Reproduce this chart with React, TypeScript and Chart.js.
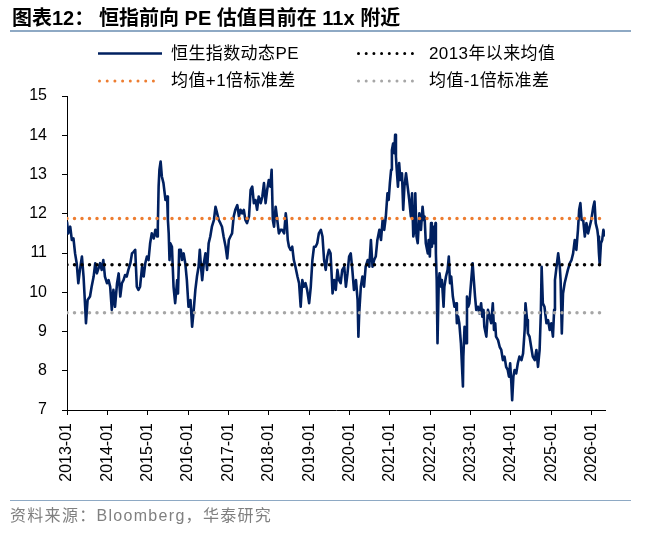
import React, { useEffect, useRef } from "react";
import { Chart, registerables } from "chart.js";

Chart.register(...registerables);

// ---- data (fractional year, forward PE) ----
const peDates = [
  2013.00, 2013.03, 2013.08, 2013.12, 2013.16, 2013.20, 2013.24, 2013.28, 2013.32, 2013.37, 2013.41, 2013.45, 2013.47, 2013.51, 2013.57, 2013.61, 2013.66, 2013.70, 2013.74, 2013.78, 2013.82, 2013.86, 2013.90, 2013.94, 2013.99,
  2014.03, 2014.07, 2014.11, 2014.15, 2014.19, 2014.24, 2014.28, 2014.32, 2014.36, 2014.40, 2014.44, 2014.48, 2014.52, 2014.57, 2014.61, 2014.65, 2014.69, 2014.73, 2014.77, 2014.81, 2014.86, 2014.90, 2014.94, 2014.98,
  2015.02, 2015.06, 2015.10, 2015.15, 2015.19, 2015.23, 2015.25, 2015.27, 2015.29, 2015.32, 2015.35, 2015.39, 2015.44, 2015.48, 2015.50, 2015.52, 2015.54, 2015.56, 2015.60, 2015.64, 2015.68, 2015.73, 2015.75, 2015.78, 2015.82, 2015.85, 2015.89, 2015.93, 2015.97,
  2016.01, 2016.06, 2016.10, 2016.14, 2016.18, 2016.22, 2016.26, 2016.29, 2016.32, 2016.35, 2016.39, 2016.43, 2016.47, 2016.51, 2016.55, 2016.59, 2016.64, 2016.68, 2016.72, 2016.76, 2016.80, 2016.84, 2016.88, 2016.93, 2016.97,
  2017.01, 2017.05, 2017.09, 2017.13, 2017.17, 2017.22, 2017.26, 2017.30, 2017.34, 2017.38, 2017.42, 2017.46, 2017.51, 2017.55, 2017.59, 2017.63, 2017.67, 2017.71, 2017.75, 2017.80, 2017.84, 2017.88, 2017.92, 2017.96,
  2018.00, 2018.04, 2018.07, 2018.10, 2018.13, 2018.17, 2018.21, 2018.25, 2018.29, 2018.33, 2018.38, 2018.42, 2018.44, 2018.47, 2018.50, 2018.54, 2018.58, 2018.62, 2018.66, 2018.71, 2018.75, 2018.79, 2018.83, 2018.87, 2018.91, 2018.95,
  2019.00, 2019.04, 2019.08, 2019.12, 2019.16, 2019.20, 2019.24, 2019.29, 2019.33, 2019.37, 2019.41, 2019.45, 2019.49, 2019.53, 2019.58, 2019.62, 2019.66, 2019.70, 2019.74, 2019.78, 2019.82, 2019.87, 2019.91, 2019.95, 2019.99,
  2020.03, 2020.07, 2020.11, 2020.16, 2020.20, 2020.22, 2020.24, 2020.28, 2020.32, 2020.36, 2020.40, 2020.45, 2020.49, 2020.53, 2020.57, 2020.61, 2020.65, 2020.69, 2020.74, 2020.78, 2020.82, 2020.86, 2020.90, 2020.94, 2020.97,
  2021.00, 2021.03, 2021.05, 2021.08, 2021.11, 2021.13, 2021.15, 2021.17, 2021.20, 2021.23, 2021.26, 2021.30, 2021.33, 2021.36, 2021.40, 2021.44, 2021.48, 2021.52, 2021.55, 2021.58, 2021.61, 2021.63, 2021.66, 2021.69, 2021.73, 2021.77, 2021.81, 2021.84, 2021.86, 2021.89, 2021.94, 2021.96, 2021.99,
  2022.02, 2022.04, 2022.08, 2022.10, 2022.13, 2022.14, 2022.16, 2022.18, 2022.21, 2022.23, 2022.27, 2022.29, 2022.33, 2022.35, 2022.39, 2022.43, 2022.46, 2022.49, 2022.52, 2022.56, 2022.60, 2022.64, 2022.66, 2022.69, 2022.72, 2022.76, 2022.81, 2022.82, 2022.85, 2022.89, 2022.91, 2022.94, 2022.97,
  2023.01, 2023.05, 2023.08, 2023.11, 2023.14, 2023.18, 2023.22, 2023.26, 2023.29, 2023.32, 2023.34, 2023.39, 2023.43, 2023.47, 2023.51, 2023.55, 2023.58, 2023.61, 2023.63, 2023.68, 2023.72, 2023.76, 2023.80, 2023.84, 2023.88, 2023.92, 2023.95, 2023.98,
  2024.01, 2024.03, 2024.06, 2024.09, 2024.13, 2024.17, 2024.21, 2024.26, 2024.30, 2024.34, 2024.36, 2024.40, 2024.42, 2024.46, 2024.50, 2024.54, 2024.59, 2024.63, 2024.67, 2024.71, 2024.74, 2024.76, 2024.79, 2024.83, 2024.88, 2024.92, 2024.96,
  2025.00, 2025.04, 2025.07, 2025.09, 2025.12, 2025.17, 2025.21, 2025.23, 2025.26, 2025.29, 2025.33, 2025.37, 2025.41, 2025.46, 2025.50, 2025.54, 2025.58, 2025.62, 2025.66, 2025.69, 2025.72, 2025.75, 2025.79, 2025.83, 2025.87, 2025.91, 2025.95, 2025.99,
  2026.04, 2026.07, 2026.10, 2026.14, 2026.16, 2026.18, 2026.20, 2026.23, 2026.26, 2026.29, 2026.33,
];

const peValues = [
  11.80, 11.50, 11.67, 11.33, 11.37, 10.99, 10.74, 10.23, 10.57, 10.91, 10.40, 9.63, 9.21, 9.80, 9.89, 10.14, 10.40, 10.74, 10.48, 10.61, 10.74, 10.57, 10.82, 10.40, 10.23,
  10.31, 10.14, 9.55, 10.06, 9.63, 10.23, 10.48, 9.89, 10.23, 10.31, 10.44, 10.40, 10.57, 10.74, 10.99, 11.03, 11.08, 10.14, 10.06, 10.14, 10.65, 10.40, 10.74, 10.91,
  10.82, 11.25, 11.50, 11.37, 11.59, 11.42, 11.67, 12.69, 13.12, 13.33, 12.95, 12.78, 12.35, 12.44, 11.84, 11.50, 10.82, 11.25, 11.16, 10.14, 9.72, 10.31, 9.97, 11.08, 11.08, 10.82, 10.99, 10.74, 10.31,
  9.63, 9.80, 9.12, 9.55, 10.06, 10.40, 10.65, 11.08, 10.65, 10.31, 10.74, 10.99, 10.57, 11.25, 11.42, 11.67, 11.84, 12.18, 12.01, 11.84, 11.76, 11.67, 11.42, 11.16, 10.86,
  11.33, 11.42, 11.50, 11.93, 12.10, 12.22, 11.93, 12.10, 12.01, 12.10, 11.84, 11.76, 11.93, 12.61, 12.69, 12.27, 12.35, 12.10, 12.44, 12.27, 12.44, 12.78, 12.27, 12.61,
  12.86, 12.69, 13.12, 11.84, 11.67, 12.18, 11.84, 11.50, 11.59, 11.59, 11.50, 12.01, 11.84, 11.33, 11.16, 11.08, 11.16, 10.82, 10.65, 10.40, 10.23, 9.63, 10.31, 10.14, 10.23, 10.06,
  9.72, 10.14, 10.82, 11.16, 11.16, 11.25, 11.50, 11.59, 11.42, 10.82, 10.57, 10.91, 11.08, 10.99, 9.97, 10.31, 10.06, 10.57, 10.31, 10.23, 10.57, 10.65, 10.14, 10.48, 10.91,
  10.99, 10.57, 10.06, 10.31, 9.80, 8.87, 9.46, 10.14, 10.40, 10.14, 10.65, 10.82, 10.65, 11.33, 10.65, 10.82, 10.91, 11.33, 11.59, 11.33, 11.84, 11.59, 11.93, 12.52, 12.35,
  12.78, 13.12, 13.62, 13.79, 13.54, 14.01, 13.45, 13.12, 12.69, 13.29, 12.86, 13.03, 12.10, 12.69, 13.03, 12.69, 12.35, 11.93, 12.52, 11.42, 11.59, 12.52, 11.42, 11.25, 12.01, 11.59, 12.18, 11.84, 11.93, 11.25, 10.99, 11.33, 10.91,
  11.76, 11.16, 11.67, 11.25, 11.76, 10.99, 10.31, 8.70, 10.23, 10.48, 10.14, 10.31, 9.63, 10.14, 10.40, 10.57, 10.91, 10.23, 10.40, 9.89, 9.63, 9.72, 9.21, 9.38, 9.21, 8.70, 7.60, 8.36, 9.12, 8.70, 9.89, 9.63, 9.72,
  10.23, 10.74, 10.31, 9.89, 9.55, 9.63, 9.46, 9.72, 9.38, 9.55, 9.12, 8.87, 9.55, 9.38, 9.21, 9.72, 9.04, 9.21, 8.87, 8.78, 8.61, 8.53, 8.27, 8.36, 8.10, 8.02, 7.85, 8.19,
  7.68, 7.25, 7.85, 8.02, 7.93, 8.19, 8.36, 8.27, 8.44, 9.04, 9.72, 9.29, 8.95, 8.87, 8.61, 8.36, 8.27, 8.53, 8.10, 8.53, 9.46, 10.65, 9.72, 9.63, 9.21, 9.29, 9.04,
  9.21, 8.87, 9.55, 10.31, 10.57, 10.99, 10.65, 10.31, 8.95, 9.97, 10.23, 10.40, 10.57, 10.74, 10.82, 10.99, 11.33, 11.08, 11.59, 12.10, 12.27, 11.84, 11.84, 11.42, 11.76, 11.50, 11.67, 11.84,
  12.18, 12.31, 11.76, 11.59, 11.42, 10.99, 10.70, 11.25, 11.33, 11.59, 11.42,
];

const meanValue = 10.7;
const plusOneStd = 11.88;
const minusOneStd = 9.48;

const yearTicks = [2013, 2014, 2015, 2016, 2017, 2018, 2019, 2020, 2021, 2022, 2023, 2024, 2025, 2026];
const xMin = 2013;
const xMax = 2026.33;
const yMin = 7;
const yMax = 15;

const seriesLabels = ["恒生指数动态PE", "2013年以来均值", "均值+1倍标准差", "均值-1倍标准差"];
const seriesColors = ["#002060", "#000000", "#ED7D31", "#A6A6A6"];

const titleLead = "图表12：";
const titleText = "恒指前向 PE 估值目前在 11x 附近";
const sourceText = "资料来源：Bloomberg，华泰研究";

const latinFont = "'Liberation Sans', Arial, 'Noto Sans CJK SC', sans-serif";

function LegendSymbol({ x, y, color, dotted }: { x: number; y: number; color: string; dotted: boolean }) {
  return dotted ? (
    <line x1={x + 1.5} y1={y} x2={x + 63} y2={y} stroke={color} strokeWidth={3} strokeLinecap="round" strokeDasharray="0 7.7" />
  ) : (
    <line x1={x} y1={y} x2={x + 64} y2={y} stroke={color} strokeWidth={2.5} />
  );
}

export default function App() {
  const canvasRef = useRef<HTMLCanvasElement>(null);

  useEffect(() => {
    const canvas = canvasRef.current;
    if (!canvas) return;
    const pePoints = peDates.map((d, i) => ({ x: d, y: peValues[i] }));
    const hline = (v: number) => [
      { x: xMin, y: v },
      { x: xMax, y: v },
    ];
    const dotted = (label: string, color: string, v: number) => ({
      label,
      data: hline(v),
      borderColor: color,
      backgroundColor: color,
      borderWidth: 3.5,
      borderDash: [0, 7.5],
      borderCapStyle: "round" as const,
      pointRadius: 0,
      fill: false,
      order: 1,
    });
    const tickFont = { family: latinFont, size: 16 };
    const chart = new Chart(canvas, {
      type: "line",
      data: {
        datasets: [
          dotted(seriesLabels[1], seriesColors[1], meanValue),
          dotted(seriesLabels[2], seriesColors[2], plusOneStd),
          dotted(seriesLabels[3], seriesColors[3], minusOneStd),
          {
            label: seriesLabels[0],
            data: pePoints,
            borderColor: seriesColors[0],
            backgroundColor: seriesColors[0],
            borderWidth: 2.6,
            borderJoinStyle: "round",
            pointRadius: 0,
            tension: 0,
            fill: false,
            order: 2,
          },
        ],
      },
      options: {
        responsive: false,
        animation: false,
        devicePixelRatio: 1,
        layout: { padding: { left: 0, top: 96, right: 52, bottom: 0 } },
        plugins: { legend: { display: false }, tooltip: { enabled: false }, title: { display: false } },
        scales: {
          x: {
            type: "linear",
            min: xMin,
            max: xMax,
            afterBuildTicks: (s: any) => {
              s.ticks = yearTicks.map((v) => ({ value: v }));
            },
            afterFit: (s: any) => {
              s.height = 133;
            },
            grid: { drawOnChartArea: false, drawTicks: true, tickLength: 5, tickColor: "#000", tickWidth: 1 },
            border: { display: true, color: "#000", width: 1 },
            ticks: {
              autoSkip: false,
              minRotation: 90,
              maxRotation: 90,
              padding: 8,
              color: "#000",
              font: tickFont,
              callback: (v: any) => `${v}-01`,
            },
          },
          y: {
            min: yMin,
            max: yMax,
            afterFit: (s: any) => {
              s.width = 67;
            },
            grid: { drawOnChartArea: false, drawTicks: true, tickLength: 5, tickColor: "#000", tickWidth: 1 },
            border: { display: true, color: "#000", width: 1 },
            ticks: { stepSize: 1, padding: 15, color: "#000", font: tickFont },
          },
        },
      },
    } as any);
    return () => chart.destroy();
  }, []);

  const legendRows = [
    { x: 98, tx: 171, y: 53.5, idx: 0 },
    { x: 357, tx: 429, y: 53.5, idx: 1 },
    { x: 98, tx: 171, y: 81, idx: 2 },
    { x: 357, tx: 429, y: 81, idx: 3 },
  ];

  const titleStyle: React.CSSProperties = {
    position: "absolute",
    top: 4,
    height: 28,
    lineHeight: "28px",
    fontSize: 20,
    fontWeight: 700,
    color: "#000",
    whiteSpace: "nowrap",
  };

  return (
    <div
      style={{
        position: "absolute",
        left: 0,
        top: 0,
        width: 657,
        height: 543,
        background: "#fff",
        overflow: "hidden",
        fontFamily: latinFont,
      }}
    >
      <canvas ref={canvasRef} width={657} height={543} style={{ position: "absolute", left: 0, top: 0, width: 657, height: 543 }} />
      <div style={{ ...titleStyle, left: 12 }}>{titleLead}</div>
      <div style={{ ...titleStyle, left: 99 }}>{titleText}</div>
      <div style={{ position: "absolute", left: 10, top: 30, width: 621, height: 1.5, background: "#8EA9C4" }} />
      <svg width={657} height={100} style={{ position: "absolute", left: 0, top: 0 }}>
        {legendRows.map((r) => (
          <LegendSymbol key={r.idx} x={r.x} y={r.y} color={seriesColors[r.idx]} dotted={r.idx !== 0} />
        ))}
      </svg>
      {legendRows.map((r) => (
        <div
          key={"t" + r.idx}
          style={{
            position: "absolute",
            left: r.tx,
            top: r.y - 12,
            height: 24,
            lineHeight: "24px",
            fontSize: 17,
            letterSpacing: 0.4,
            color: "#000",
            whiteSpace: "nowrap",
          }}
        >
          {seriesLabels[r.idx]}
        </div>
      ))}
      <div style={{ position: "absolute", left: 10, top: 499.5, width: 621, height: 1.5, background: "#8EA9C4" }} />
      <div
        style={{
          position: "absolute",
          left: 10,
          top: 505,
          height: 22,
          lineHeight: "22px",
          fontSize: 16,
          letterSpacing: 1.3,
          color: "#808080",
          whiteSpace: "nowrap",
        }}
      >
        {sourceText}
      </div>
    </div>
  );
}
